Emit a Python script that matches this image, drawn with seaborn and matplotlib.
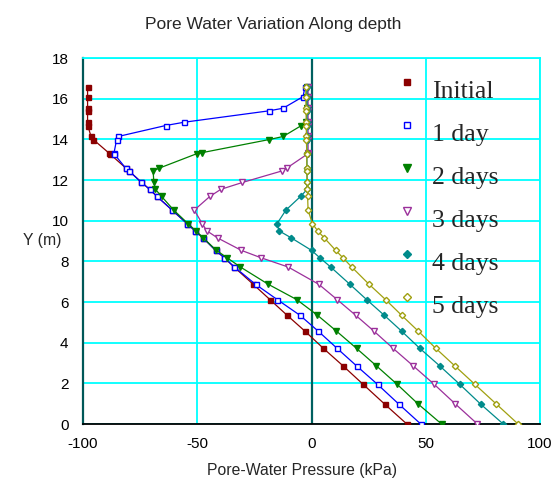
import matplotlib
matplotlib.use("Agg")
import matplotlib.pyplot as plt
from matplotlib.legend_handler import HandlerLine2D
import seaborn as sns
import pandas as pd

# ---- data ----
depth_y = [16.56, 16.10, 15.53, 15.40, 14.84, 14.68, 14.14, 13.99, 13.34, 13.29,
           12.58, 12.44, 11.88, 11.54, 11.19, 10.52, 9.85, 9.50, 9.15, 8.54,
           8.18, 7.72, 6.87, 6.12, 5.35, 4.57, 3.72, 2.86, 1.95, 0.98, 0.00]

initial = [-98.0, -98.0, -98.0, -98.0, -98.0, -97.9, -96.5, -95.5, -88.8, -88.3,
           -81.2, -79.8, -74.4, -70.8, -67.6, -61.0, -54.4, -51.0, -47.4, -42.0,
           -38.2, -33.9, -25.5, -18.2, -10.7, -2.9, 5.2, 13.8, 22.6, 32.0, 41.7]
day1 = [-2.9, -3.7, -12.4, -18.7, -55.8, -63.8, -84.6, -85.3, -86.4, -86.4,
        -81.3, -79.8, -74.4, -70.8, -67.6, -61.0, -54.4, -51.0, -47.4, -42.0,
        -38.2, -33.7, -24.5, -15.0, -5.1, 2.9, 11.2, 19.7, 28.9, 38.2, 47.8]
day2 = [-2.0, -2.0, -2.0, -2.0, -2.2, -4.4, -12.4, -18.5, -48.1, -50.3,
        -66.7, -69.3, -69.0, -68.3, -65.6, -60.3, -54.0, -50.6, -47.4, -41.6,
        -37.0, -31.1, -18.9, -6.5, 2.6, 10.9, 19.7, 28.4, 37.5, 46.7, 56.9]
day3 = [-1.5, -1.5, -1.5, -1.5, -1.5, -1.5, -1.5, -1.5, -1.5, -1.6,
        -10.9, -13.1, -30.2, -39.7, -44.5, -51.3, -47.8, -45.8, -41.1, -30.7,
        -22.2, -10.2, 3.2, 11.2, 19.3, 27.3, 35.7, 44.5, 53.7, 63.0, 72.6]
day4 = [-2.0, -2.0, -2.0, -2.0, -2.0, -2.0, -2.0, -2.0, -2.0, -2.0,
        -2.0, -2.0, -1.9, -1.9, -4.8, -11.2, -15.1, -14.2, -8.8, 0.0,
        3.6, 8.4, 16.8, 24.1, 31.8, 39.4, 47.4, 56.1, 64.9, 74.0, 83.9]
day5 = [-2.5, -2.5, -2.4, -2.4, -2.3, -2.3, -2.2, -2.2, -2.1, -2.1,
        -2.0, -2.0, -1.9, -1.8, -1.7, -1.5, 0.4, 2.7, 5.6, 10.6,
        13.7, 17.6, 25.2, 32.4, 39.4, 46.7, 54.4, 62.7, 71.5, 80.9, 90.4]

series_names = ["Initial", "1 day", "2 days", "3 days", "4 days", "5 days"]
series_values = [initial, day1, day2, day3, day4, day5]

x_ticks = [-100, -50, 0, 50, 100]
y_ticks = [0, 2, 4, 6, 8, 10, 12, 14, 16, 18]

# ---- styles ----
colors = ["#8B0000", "#0000FF", "#008000", "#9B309B", "#008B8B", "#A0A010"]
markers = ["s", "s", "v", "v", "D", "D"]
filled = [True, False, True, False, True, False]
msizes = [3.6, 3.6, 4.2, 4.2, 3.2, 3.2]

sns.set_style("white")
plt.rcParams["font.family"] = ["Liberation Sans", "DejaVu Sans"]
plt.rcParams["axes.unicode_minus"] = False

fig = plt.figure(figsize=(5.54, 4.82), dpi=100)
ax = fig.add_axes([83 / 554, 1 - 424 / 482, 457 / 554, 366 / 482])

ax.set_xlim(-100, 100)
ax.set_ylim(0, 18)
ax.set_xticks(x_ticks)
ax.set_yticks(y_ticks)
ax.grid(True, color="#00FFFF", lw=1.3, zorder=0)
ax.set_axisbelow(True)
ax.axvline(0, color="#006060", lw=1.6, zorder=1.5)

for name, vals, c, m, f, ms in zip(series_names, series_values, colors,
                                   markers, filled, msizes):
    df = pd.DataFrame({"x": vals, "y": depth_y})
    sns.lineplot(data=df, x="x", y="y", ax=ax, sort=False, estimator=None,
                 color=c, lw=0.9, marker=m, markersize=ms,
                 markerfacecolor=(c if f else "white"), markeredgecolor=c,
                 markeredgewidth=1.0, label=name, zorder=3)

for s in ["top", "right"]:
    ax.spines[s].set_color("#00FFFF")
    ax.spines[s].set_linewidth(1.3)
ax.spines["left"].set_color("#005858")
ax.spines["left"].set_linewidth(1.6)
ax.spines["bottom"].set_color("black")
ax.spines["bottom"].set_linewidth(1.3)

ax.tick_params(axis="both", direction="inout", length=10, width=1.3,
               color="black", labelsize=11, labelcolor="black")
ax.tick_params(axis="y", pad=5.5)
ax.tick_params(axis="x", pad=4.0)

ax.set_xlabel("Pore-Water Pressure (kPa)", fontsize=11.3)
ax.xaxis.set_label_coords(0.479, -0.126)
ax.xaxis.label.set_va("center")
ax.set_ylabel("Y (m)", fontsize=11.3, rotation=0, ha="center", va="center")
ax.yaxis.set_label_coords(-0.09, 0.5)

fig.text(0.494, 1 - 29 / 482, "Pore Water Variation Along depth",
         fontsize=12.5, ha="center", va="baseline")


class RaisedMarkerHandler(HandlerLine2D):
    """Legend marker drawn a little above the text centre, as in the reference."""

    def create_artists(self, legend, orig_handle, xdescent, ydescent,
                       width, height, fontsize, trans):
        arts = super().create_artists(legend, orig_handle, xdescent, ydescent,
                                      width, height, fontsize, trans)
        for a in arts:
            yd = a.get_ydata()
            a.set_ydata([v + 5.0 for v in yd])
            a.set_linestyle("none")
        return arts


leg = ax.legend(loc="upper left", bbox_to_anchor=(0.68, 0.94),
                frameon=False, borderpad=0, borderaxespad=0,
                handlelength=1.0, handletextpad=0.5, labelspacing=0.78,
                markerscale=1.25,
                handler_map={matplotlib.lines.Line2D: RaisedMarkerHandler()},
                prop={"family": "Liberation Serif", "size": 18.5})

fig.savefig("out.png", dpi=100)
